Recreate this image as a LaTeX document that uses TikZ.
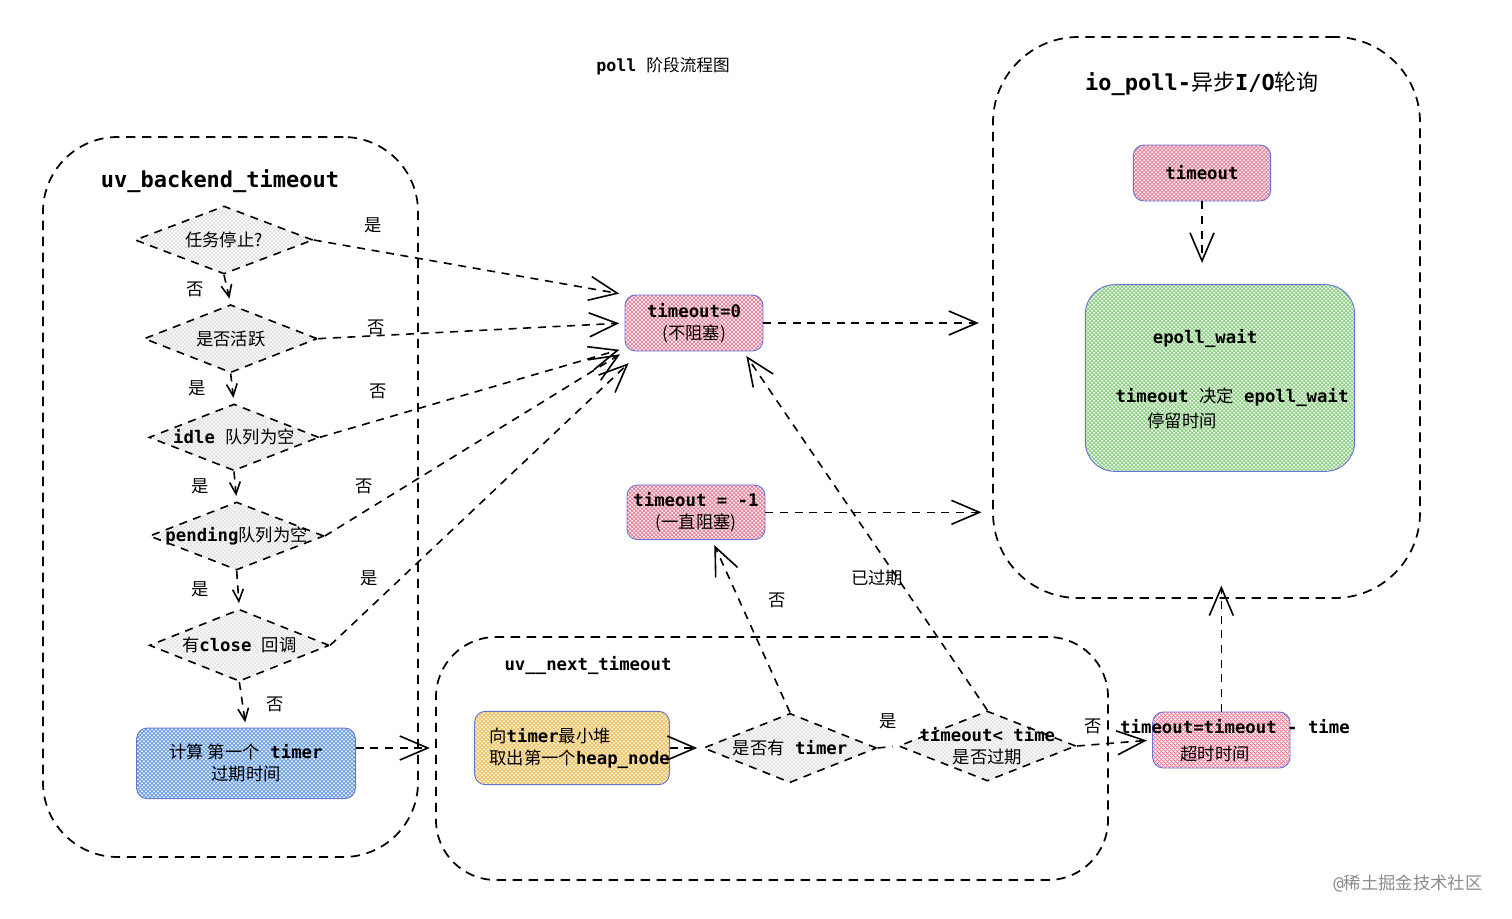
\documentclass[tikz,border=0pt]{standalone}
\usepackage{fontspec}
\setmainfont{DejaVu Sans Mono}
\newfontfamily\cjk{Noto Sans CJK SC}
\newcommand\zh[1]{{\cjk\mdseries #1}}
\usetikzlibrary{arrows.meta,shapes.geometric,positioning}

\definecolor{pinkline}{RGB}{226,110,140}
\definecolor{blueline}{RGB}{85,145,228}
\definecolor{greenline}{RGB}{120,200,110}
\definecolor{yellowline}{RGB}{238,185,70}
\definecolor{grayline}{RGB}{222,222,222}
\definecolor{edgeblue}{RGB}{105,115,210}

% cross hatching, drawn line by line inside the shape
\tikzset{
  hatch/.style={fill=#1!10,path picture={
    \foreach \k in {-50,...,70}{
      \draw[#1,line width=.45pt,solid,-,shorten >=0pt] ([xshift=\k*3pt]path picture bounding box.south west) -- ++(170pt,170pt);
      \draw[#1,line width=.45pt,solid,-,shorten >=0pt] ([xshift=-\k*3pt]path picture bounding box.south east) -- ++(-170pt,170pt);
    }}}
}

\begin{document}
\begin{tikzpicture}[x=0.75pt,y=-0.75pt,->,>={Straight Barb[length=21pt,width=18pt]},
  shorten >=4pt,line width=1.2pt,node distance=74pt,
  font=\fontsize{13}{16.5}\selectfont\bfseries,
  group/.style={draw,dash pattern=on 7pt off 5pt,line width=1.3pt,inner sep=0pt},
  decision/.style={diamond,draw,dash pattern=on 6pt off 5pt,hatch=grayline,inner sep=0pt,minimum height=51pt},
  box/.style={rectangle,draw=edgeblue,line width=.7pt,rounded corners=8pt,align=center,inner sep=0pt},
  flow/.style={dash pattern=on 6pt off 5pt},
  small/.style={-{Straight Barb[length=9pt,width=8pt]}}]

 \fill[white,-] (0,0) rectangle (1512,918);
 \useasboundingbox (0,0) rectangle (1512,918);

 % groups
 \node[group,minimum width=281.25pt,minimum height=540pt,rounded corners=56pt] (bk) at (230.5,497) {};
 \node[group,minimum width=320.25pt,minimum height=420.75pt,rounded corners=64pt] (io) at (1206.5,317.5) {};
 \node[group,minimum width=504pt,minimum height=182.25pt,rounded corners=45pt] (nt) at (772,758.5) {};

 \node[font=\fontsize{12.5}{15}\selectfont\bfseries] (title) at (663,66) {poll \zh{阶段流程图}};
 \node[font=\fontsize{16.5}{20}\selectfont\bfseries] (bkname) at (220,181) {uv\_backend\_timeout};
 \node[font=\fontsize{16.5}{20}\selectfont\bfseries] (ioname) at (1202,84) {io\_poll-\zh{异步}I/O\zh{轮询}};
 \node (ntname) at (588,665) {uv\_\_next\_timeout};

 % uv_backend_timeout
 \node[decision,minimum width=133.5pt,label=center:{\zh{任务停止?}}] (d1) at (224,240) {};
 \node[decision,minimum width=130pt,label=center:{\zh{是否活跃}}] (d2) [below of=d1,xshift=5pt] {};
 \node[decision,minimum width=127.5pt,minimum height=50pt,label=center:{idle \zh{队列为空}}] (d3) [below of=d2,xshift=2.5pt] {};
 \node[decision,minimum width=131pt,label=center:{pending\zh{队列为空}}] (d4) [below of=d3,xshift=2pt] {};
 \node[decision,minimum width=135pt,minimum height=54pt,node distance=82pt,label=center:{\zh{有}close \zh{回调}}] (d5) [below of=d4,xshift=2pt] {};
 \node[box,hatch=blueline,minimum width=164pt,minimum height=53pt,node distance=88.5pt] (calc) [below of=d5,xshift=5pt] {\zh{计算 第一个} timer\\\zh{过期时间}};

 % timeout values
 \node[box,hatch=pinkline,minimum width=103.5pt,minimum height=42pt] (t0) at (694,323) {timeout=0\\\zh{(不阻塞)}};
 \node[box,hatch=pinkline,minimum width=103.5pt,minimum height=41pt,node distance=142pt] (tm1) [below of=t0,xshift=1.5pt] {timeout = -1\\\zh{(一直阻塞)}};

 % io_poll
 \node[box,hatch=pinkline,minimum width=103pt,minimum height=42pt] (tio) at (1202,173) {timeout};
 \node[box,hatch=greenline,minimum width=202pt,minimum height=140pt,rounded corners=22pt,node distance=153.75pt] (ep) [below of=tio,xshift=13.5pt] {};
 \node (epname) at (1205,338) {epoll\_wait};
 \node (epnote) at (1232,397) {timeout \zh{决定} epoll\_wait};
 \node (epnote2) at (1182,421) {\zh{停留时间}};

 % uv__next_timeout
 \node[box,hatch=yellowline,minimum width=146pt,minimum height=55pt,align=left,text width=124pt] (heap) at (572,748) {\zh{向}timer\zh{最小堆}\\\zh{取出第一个}heap\_node};
 \node[decision,minimum width=130pt,minimum height=52pt,node distance=163.5pt,label=center:{\zh{是否有} timer}] (d6) [right of=heap] {};
 \node[decision,minimum width=133pt,minimum height=52.5pt,node distance=148pt,label={[align=center]center:timeout< time\\\zh{是否过期}}] (d7) [right of=d6,yshift=1.5pt] {};
 \node[box,hatch=pinkline,minimum width=103pt,minimum height=42pt,node distance=175.5pt] (ttt) [right of=d7,yshift=4.5pt] {};
 \node (tttname) at (1235,727) {timeout=timeout - time};
 \node (tttnote) at (1215,754) {\zh{超时时间}};

 \node[text=black!45] (mark) at (1408,883) {\mdseries @\zh{稀土掘金技术社区}};

 \path[flow]
    (d1.south)	edge[small] node[left=14pt] {\zh{否}} (d2.north)
    (d2.south)	edge[small] node[left=16pt] {\zh{是}} (d3.north)
    (d3.south)	edge[small] node[left=16pt] {\zh{是}} (d4.north)
    (d4.south)	edge[small] node[left=18pt] {\zh{是}} (d5.north)
    (d5.south)	edge[small] node[right=14pt] {\zh{否}} (calc.north)
    (d1.east)	edge node[pos=.19,above=9pt] {\zh{是}} (t0.north west)
    (d2.east)	edge node[pos=.19,above=-3pt] {\zh{否}} (t0.west)
    (d3.east)	edge node[pos=.19,above=12pt] {\zh{否}} (t0.200)
    (d4.east)	edge node[pos=.13,above=10pt] {\zh{否}} (t0.south west)
    (d5.east)	edge node[pos=.13,above=13pt] {\zh{是}} ([xshift=6pt,yshift=-6pt]t0.south west)
    (t0.east)	edge[shorten >=10pt] (t0.east -| io.west)
    (tm1.east)	edge[shorten >=8pt] (tm1.east -| io.west)
    (tio.south)	edge[shorten >=16pt] (tio.south |- ep.north)
    (calc.east |- d6.west) edge (nt.west |- d6.west)
    (heap.east)	edge (d6.west)
    (d6.east)	edge[-] node[above=10pt] {\zh{是}} (d7.west)
    (d7.east)	edge node[pos=.22,above=4pt] {\zh{否}} (ttt.west)
    (ttt.north)	edge[shorten >=-10pt] (ttt.north |- io.south)
    (d6.north)	edge node[pos=.65,right=18pt] {\zh{否}} (tm1.300)
    (d7.north)	edge node[pos=.37,xshift=-15pt] {\zh{已过期}} (t0.330);

\end{tikzpicture}
\end{document}
